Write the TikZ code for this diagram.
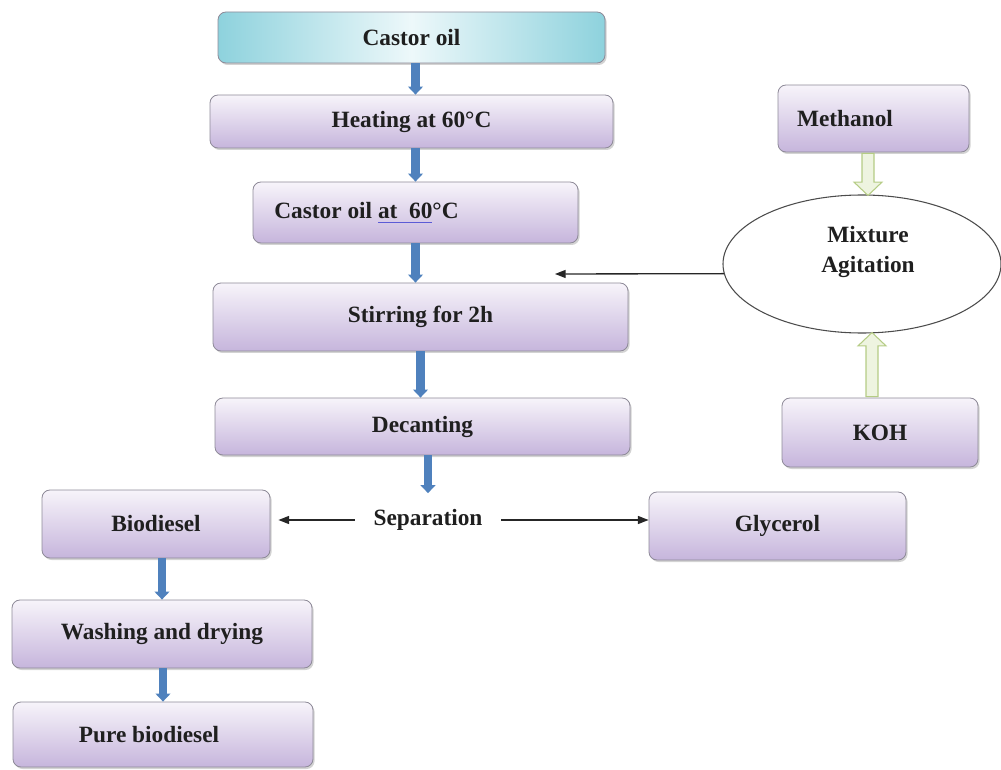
\documentclass[tikz,border=0pt]{standalone}
\usepackage{fontspec}
\setmainfont{Liberation Serif}
\usetikzlibrary{shapes.geometric,shadows,arrows.meta,calc}
\definecolor{boxline}{HTML}{8E8A98}
\definecolor{lavtop}{HTML}{F7F4FA}
\definecolor{lavbot}{HTML}{C6B5DC}
\definecolor{cyanedge}{HTML}{8ED2DD}
\definecolor{cyanmid}{HTML}{EDF8FA}
\definecolor{arrowblue}{HTML}{4F81BD}
\definecolor{gline}{HTML}{B5CC85}
\definecolor{gfill}{HTML}{EEF4E0}
\definecolor{ulblue}{HTML}{5B5BD6}
\newcommand\blueul[1]{\setbox0\hbox{#1}\rlap{\color{ulblue}\rule[-3pt]{\wd0}{0.8pt}}\box0}
\begin{document}
\begin{tikzpicture}[x=0.75pt,y=-0.75pt,
  font=\fontsize{17.5}{23}\selectfont\bfseries,
  proc/.style={rectangle, rounded corners=6pt, draw=boxline, line width=0.6pt,
    top color=lavtop, bottom color=lavbot, text=black!88, inner sep=0pt,
    drop shadow={shadow xshift=1.2pt, shadow yshift=-1.5pt, opacity=0.35}},
  cyanproc/.style={proc, left color=cyanedge, right color=cyanedge, middle color=cyanmid},
  blarrow/.style={draw=arrowblue, line width=6.5pt, -{Triangle[width=11pt,length=6pt]}},
  thinarrow/.style={draw=black!85, line width=1pt, -{Triangle[length=8pt,width=6pt]}},
  garrow/.style={draw=gline, fill=gfill, line width=0.8pt, line join=miter},
  plain/.style={inner xsep=0pt, inner ysep=0pt, text=black!88}]
\useasboundingbox (0,0) rectangle (1001,770);

% main column
\node[cyanproc, minimum width=290.25pt, minimum height=38.25pt] (castor) at (411.5,37.5) {Castor oil};
\node[proc, minimum width=302.25pt, minimum height=39.75pt] (heating) at (411.5,121.5) {Heating at 60°C};
\node[proc, minimum width=243.75pt, minimum height=45.75pt] (castor60) at (415.5,212.5) {Castor oil \blueul{at\ \ 60}°C\hspace*{73.5pt}};
\node[proc, minimum width=311.25pt, minimum height=51pt] (stirring) at (420.5,317) {Stirring for 2h};
\node[proc, minimum width=311.25pt, minimum height=42.75pt] (decanting) at (422.5,426.5) {Decanting};
\node[plain] (sep) at (428,520) {Separation};

% products
\node[proc, minimum width=171pt, minimum height=51pt] (biodiesel) at (156,524) {Biodiesel};
\node[proc, minimum width=192.75pt, minimum height=51pt] (glycerol) at (777.5,526) {Glycerol};
\node[proc, minimum width=225pt, minimum height=51pt] (washing) at (162,634) {Washing and drying};
\node[proc, minimum width=225pt, minimum height=48.75pt] (pure) at (163,734.5) {Pure biodiesel\hspace*{21pt}};

% reagents
\node[proc, minimum width=143.25pt, minimum height=50.25pt] (meth) at (873.5,118.5) {Methanol\hspace*{42.75pt}};
\node[proc, minimum width=147pt, minimum height=51.75pt] (koh) at (880,432.5) {KOH};
\node[ellipse, draw=black!70, line width=0.8pt, minimum width=208.5pt, minimum height=103.5pt, inner sep=0pt] (ell) at (862,264) {};
\node[plain, align=center] (mix) at (868,252) {Mixture\\Agitation};
\coordinate (mixin) at (555,274);

% blue flow arrows
\draw[blarrow] ($(castor.south)+(4,0)$) -- ($(heating.north)+(4,0)$);
\draw[blarrow] (castor60.north |- heating.south) -- (castor60.north);
\draw[blarrow] (castor60.south) -- (castor60.south |- stirring.north);
\draw[blarrow] (stirring.south) -- (stirring.south |- decanting.north);
\draw[blarrow, shorten >=12pt] (sep.north |- decanting.south) -- (sep.north);
\draw[blarrow] (washing.north |- biodiesel.south) -- (washing.north);
\draw[blarrow] (pure.north |- washing.south) -- (pure.north);

% thin arrows
\draw[thinarrow, shorten <=14pt, shorten >=6pt] (sep.west) -- (sep.west -| biodiesel.east);
\draw[thinarrow, shorten <=14pt] (sep.east) -- (sep.east -| glycerol.west);
\draw[thinarrow] (ell.184) -- (mixin);

% hollow green arrows
\draw[garrow] let \p1=($(meth.south)+(-5.5,1)$), \p2=($(ell.north)+(6,1)$) in
  (\x1-4.5pt,\y1) -- (\x1-4.5pt,\y2+10pt) -- (\x1-10.5pt,\y2+10pt) -- (\x1,\y2)
  -- (\x1+10.5pt,\y2+10pt) -- (\x1+4.5pt,\y2+10pt) -- (\x1+4.5pt,\y1) -- cycle;
\draw[garrow] let \p1=($(koh.north)+(-8,-1)$), \p2=($(ell.south)+(10,-1)$) in
  (\x1-4.5pt,\y1) -- (\x1-4.5pt,\y2-10pt) -- (\x1-10.5pt,\y2-10pt) -- (\x1,\y2)
  -- (\x1+10.5pt,\y2-10pt) -- (\x1+4.5pt,\y2-10pt) -- (\x1+4.5pt,\y1) -- cycle;
\end{tikzpicture}
\end{document}
